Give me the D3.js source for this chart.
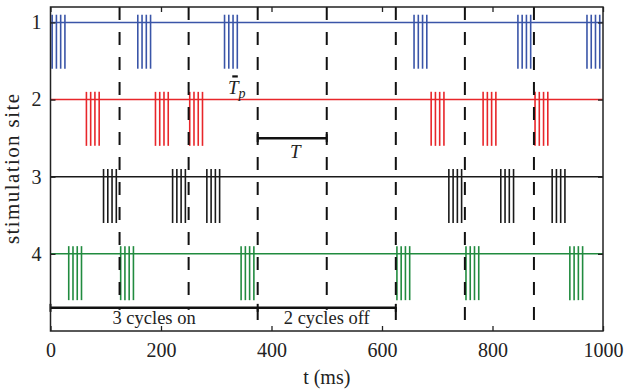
<!DOCTYPE html>
<html>
<head>
<meta charset="utf-8">
<script src="https://cdn.jsdelivr.net/npm/d3@7"></script>
<style>
  body { margin: 0; background: #fff; }
  svg { display: block; }
  text { font-family: "Liberation Serif", serif; fill: #222; }
</style>
</head>
<body>
<svg id="chart" width="630" height="390"></svg>
<script>
// data
const sites = [1, 2, 3, 4];
const siteColors = ["#3a55a8", "#e8262a", "#1a1a1a", "#218b3f"];
// first pulse of each burst (ms), one row per site
const burstStarts = [
  [3, 158, 315, 658, 846, 971],
  [65, 190, 252, 689, 783, 877],
  [96, 221, 283, 721, 815, 908],
  [33, 127, 345, 627, 752, 940]
];
const pulseOffsets = [0, 7.7, 15.4, 23.1];
const cycleEdges = [125, 250, 375, 500, 625, 750, 875];
const xTicks = [0, 200, 400, 600, 800, 1000];
const onOffMarks = [0, 375, 625];
const onOffLabels = [{t: 187.5, text: "3 cycles on"}, {t: 500, text: "2 cycles off"}];
const periodSpan = [375, 500];
const pulseWidthSpan = [329, 339];

const svg = d3.select("#chart");
const x = d3.scaleLinear().domain([0, 1000]).range([50.5, 603]);
const y = d3.scaleLinear().domain([0.8, 5]).range([7, 331]);

// baselines
svg.append("g").selectAll("line")
  .data(sites)
  .join("line")
    .attr("x1", x(0)).attr("x2", x(1000))
    .attr("y1", d => y(d)).attr("y2", d => y(d))
    .attr("stroke", (d, i) => siteColors[i])
    .attr("stroke-width", 1.5);

// pulses
const pulses = [];
burstStarts.forEach((row, i) => {
  row.forEach(s => {
    pulseOffsets.forEach(o => pulses.push({site: sites[i], t: s + o, color: siteColors[i]}));
  });
});
svg.append("g").selectAll("line")
  .data(pulses)
  .join("line")
    .attr("x1", d => x(d.t)).attr("x2", d => x(d.t))
    .attr("y1", d => y(d.site - 0.1)).attr("y2", d => y(d.site + 0.6))
    .attr("stroke", d => d.color)
    .attr("stroke-width", 1.6);

// cycle boundaries
svg.append("g").selectAll("line")
  .data(cycleEdges)
  .join("line")
    .attr("x1", d => x(d)).attr("x2", d => x(d))
    .attr("y1", y(0.8)).attr("y2", y(5))
    .attr("stroke", "#111")
    .attr("stroke-width", 2)
    .attr("stroke-dasharray", "13,12");

// on / off bracket
const ann = svg.append("g");
ann.append("line")
  .attr("x1", x(0)).attr("x2", x(625))
  .attr("y1", y(4.7)).attr("y2", y(4.7))
  .attr("stroke", "#111").attr("stroke-width", 2.5);
ann.selectAll(".mk")
  .data(onOffMarks)
  .join("line")
    .attr("x1", d => x(d)).attr("x2", d => x(d))
    .attr("y1", y(4.7) - 4).attr("y2", y(4.7) + 4)
    .attr("stroke", "#111").attr("stroke-width", 2);

onOffLabels.forEach(l => {
  const g = ann.append("g");
  const t = g.append("text")
    .attr("x", x(l.t)).attr("y", 324)
    .attr("text-anchor", "middle")
    .style("font-size", "18.5px")
    .text(l.text);
  const b = t.node().getBBox();
  g.insert("rect", "text")
    .attr("x", b.x - 2).attr("y", y(4.7) + 2)
    .attr("width", b.width + 4).attr("height", y(5) - y(4.7) - 3)
    .attr("fill", "#fff");
});

// T bracket
ann.append("line")
  .attr("x1", x(periodSpan[0])).attr("x2", x(periodSpan[1]))
  .attr("y1", y(2.5)).attr("y2", y(2.5))
  .attr("stroke", "#111").attr("stroke-width", 2.5);
ann.selectAll(".tk")
  .data(periodSpan)
  .join("line")
    .attr("x1", d => x(d)).attr("x2", d => x(d))
    .attr("y1", y(2.5) - 4).attr("y2", y(2.5) + 4)
    .attr("stroke", "#111").attr("stroke-width", 2);
ann.append("text")
  .attr("x", x(443)).attr("y", 158)
  .attr("text-anchor", "middle")
  .style("font-size", "19px").style("font-style", "italic")
  .text("T");

// Tp marker
ann.append("line")
  .attr("x1", x(pulseWidthSpan[0])).attr("x2", x(pulseWidthSpan[1]))
  .attr("y1", y(1.7)).attr("y2", y(1.7))
  .attr("stroke", "#111").attr("stroke-width", 2.2);
const tp = ann.append("text")
  .attr("x", 228).attr("y", 94)
  .style("font-size", "19px").style("font-style", "italic");
tp.append("tspan").text("T");
tp.append("tspan").attr("dy", 4).style("font-size", "14px").text("p");

// frame and ticks
svg.append("rect")
  .attr("x", x(0)).attr("y", y(0.8))
  .attr("width", x(1000) - x(0)).attr("height", y(5) - y(0.8))
  .attr("fill", "none").attr("stroke", "#222").attr("stroke-width", 1.5);

const axBottom = svg.append("g")
  .attr("transform", `translate(0,${y(5)})`)
  .call(d3.axisBottom(x).tickValues(xTicks).tickFormat(d3.format("d"))
    .tickSize(-5).tickSizeOuter(0).tickPadding(12));
const axTop = svg.append("g")
  .attr("transform", `translate(0,${y(0.8)})`)
  .call(d3.axisTop(x).tickValues(xTicks).tickSize(-5).tickSizeOuter(0).tickFormat(""));
const axLeft = svg.append("g")
  .attr("transform", `translate(${x(0)},0)`)
  .call(d3.axisLeft(y).tickValues(sites).tickFormat(d3.format("d"))
    .tickSize(-5).tickSizeOuter(0).tickPadding(9));
const axRight = svg.append("g")
  .attr("transform", `translate(${x(1000)},0)`)
  .call(d3.axisRight(y).tickValues(sites).tickSize(-5).tickSizeOuter(0).tickFormat(""));

[axBottom, axTop, axLeft, axRight].forEach(a => {
  a.select(".domain").remove();
  a.selectAll(".tick line").attr("stroke", "#222").attr("stroke-width", 1.3);
  a.selectAll("text").style("font-family", '"Liberation Serif", serif').style("font-size", "20px").attr("fill", "#222");
});

// axis titles
svg.append("text")
  .attr("x", (x(0) + x(1000)) / 2).attr("y", 384)
  .attr("text-anchor", "middle")
  .style("font-size", "20px")
  .text("t (ms)");
svg.append("text")
  .attr("transform", `translate(19,${(y(0.8) + y(5)) / 2}) rotate(-90)`)
  .attr("text-anchor", "middle")
  .style("font-size", "21px")
  .attr("textLength", 150)
  .text("stimulation site");
</script>
</body>
</html>
